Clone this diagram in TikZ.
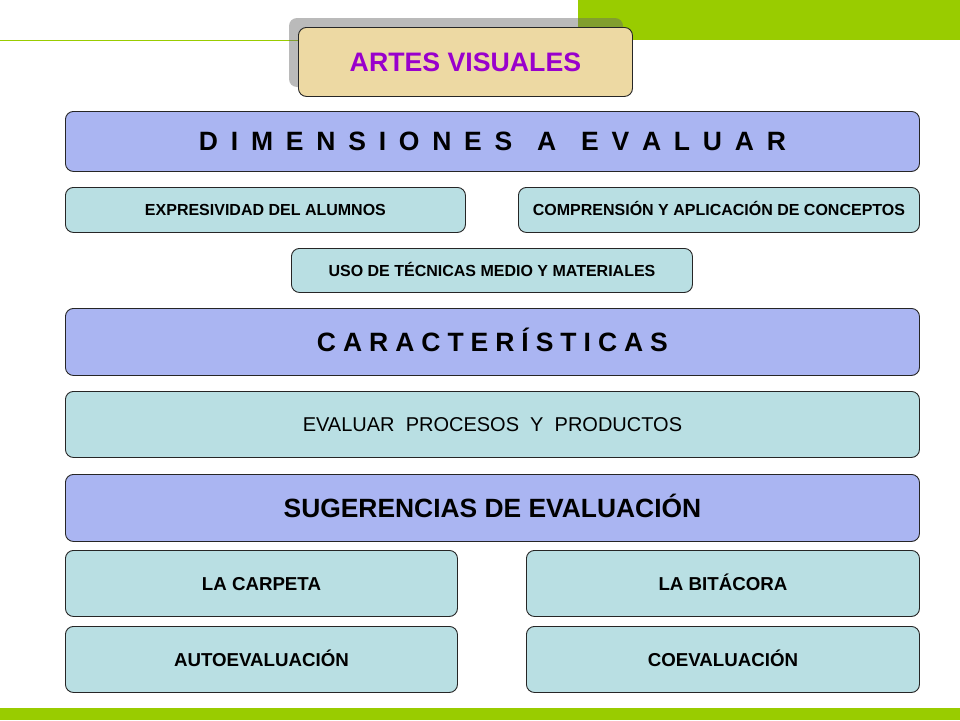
\documentclass[tikz,border=0pt]{standalone}
\usepackage{fontspec}
\setmainfont{Liberation Sans}
\definecolor{vgreen}{HTML}{99CC00}
\definecolor{peri}{HTML}{AAB5F2}
\definecolor{teal}{HTML}{B9DFE3}
\definecolor{tan}{HTML}{EDD9A3}
\definecolor{purp}{HTML}{9900CC}
\begin{document}
\begin{tikzpicture}[x=1pt,y=-1pt,
  box/.style={draw=black!85, line width=0.9pt, rounded corners=8pt, inner sep=0pt, anchor=north west, align=center,
    text depth=0pt},
  headbox/.style={box, fill=peri},
  subbox/.style={box, fill=teal},
  small/.style={font=\fontsize{16}{18}\selectfont\bfseries, text height=11.5pt},
  mid/.style={font=\fontsize{18.7}{21}\selectfont\bfseries, text height=13.4pt},
  spaced/.style={font=\fontsize{26.5}{30}\selectfont\bfseries, text height=19pt}]
\useasboundingbox (0,0) rectangle (960,720);
\fill[white] (0,0) rectangle (960,720);
% decoration bars
\fill[vgreen] (578,0) rectangle (960,40);
\draw[vgreen, line width=1pt] (0,40) -- (300,40);
\fill[vgreen] (0,708) rectangle (960,720);
% title
\fill[black!60, opacity=0.45, rounded corners=8pt] (289,18) rectangle (623,87);
\node[box, fill=tan, minimum width=334pt, minimum height=69pt, text height=19.1pt,
  font=\fontsize{26.7}{30}\selectfont\bfseries, text=purp] (title) at (298,27) {ARTES VISUALES};
% dimensiones
\node[headbox, minimum width=854pt, minimum height=60pt, spaced] (dim) at (65,111)
  {\makebox[587pt][s]{D I M E N S I O N E S\hspace{12pt} A\hspace{12pt} E V A L U A R}};
\node[subbox, minimum width=400pt, minimum height=45pt, small] (expr) at (65,187)
  {EXPRESIVIDAD DEL ALUMNOS};
\node[subbox, minimum width=401pt, minimum height=45pt, small] (comp) at (518,187)
  {COMPRENSIÓN Y APLICACIÓN DE CONCEPTOS};
\node[subbox, minimum width=401pt, minimum height=44pt, small] (uso) at (291,248)
  {USO DE TÉCNICAS MEDIO Y MATERIALES};
% caracteristicas
\node[headbox, minimum width=854pt, minimum height=67pt, spaced] (car) at (65,308)
  {\makebox[351pt][s]{C A R A C T E R Í S T I C A S}};
\node[subbox, minimum width=854pt, minimum height=66pt, text height=14.3pt,
  font=\fontsize{20}{24}\selectfont] (eval) at (65,391)
  {EVALUAR\ \ PROCESOS\ \ Y\ \ PRODUCTOS};
% sugerencias
\node[headbox, minimum width=854pt, minimum height=67pt, text height=18.9pt,
  font=\fontsize{26.4}{30}\selectfont\bfseries] (sug) at (65,474)
  {SUGERENCIAS DE EVALUACIÓN};
\node[subbox, minimum width=392pt, minimum height=66pt, mid] (carp) at (65,550) {LA CARPETA};
\node[subbox, minimum width=393pt, minimum height=66pt, mid] (bit) at (526,550) {LA BITÁCORA};
\node[subbox, minimum width=392pt, minimum height=66pt, mid] (auto) at (65,626) {AUTOEVALUACIÓN};
\node[subbox, minimum width=393pt, minimum height=66pt, mid] (coev) at (526,626) {COEVALUACIÓN};
\end{tikzpicture}
\end{document}
